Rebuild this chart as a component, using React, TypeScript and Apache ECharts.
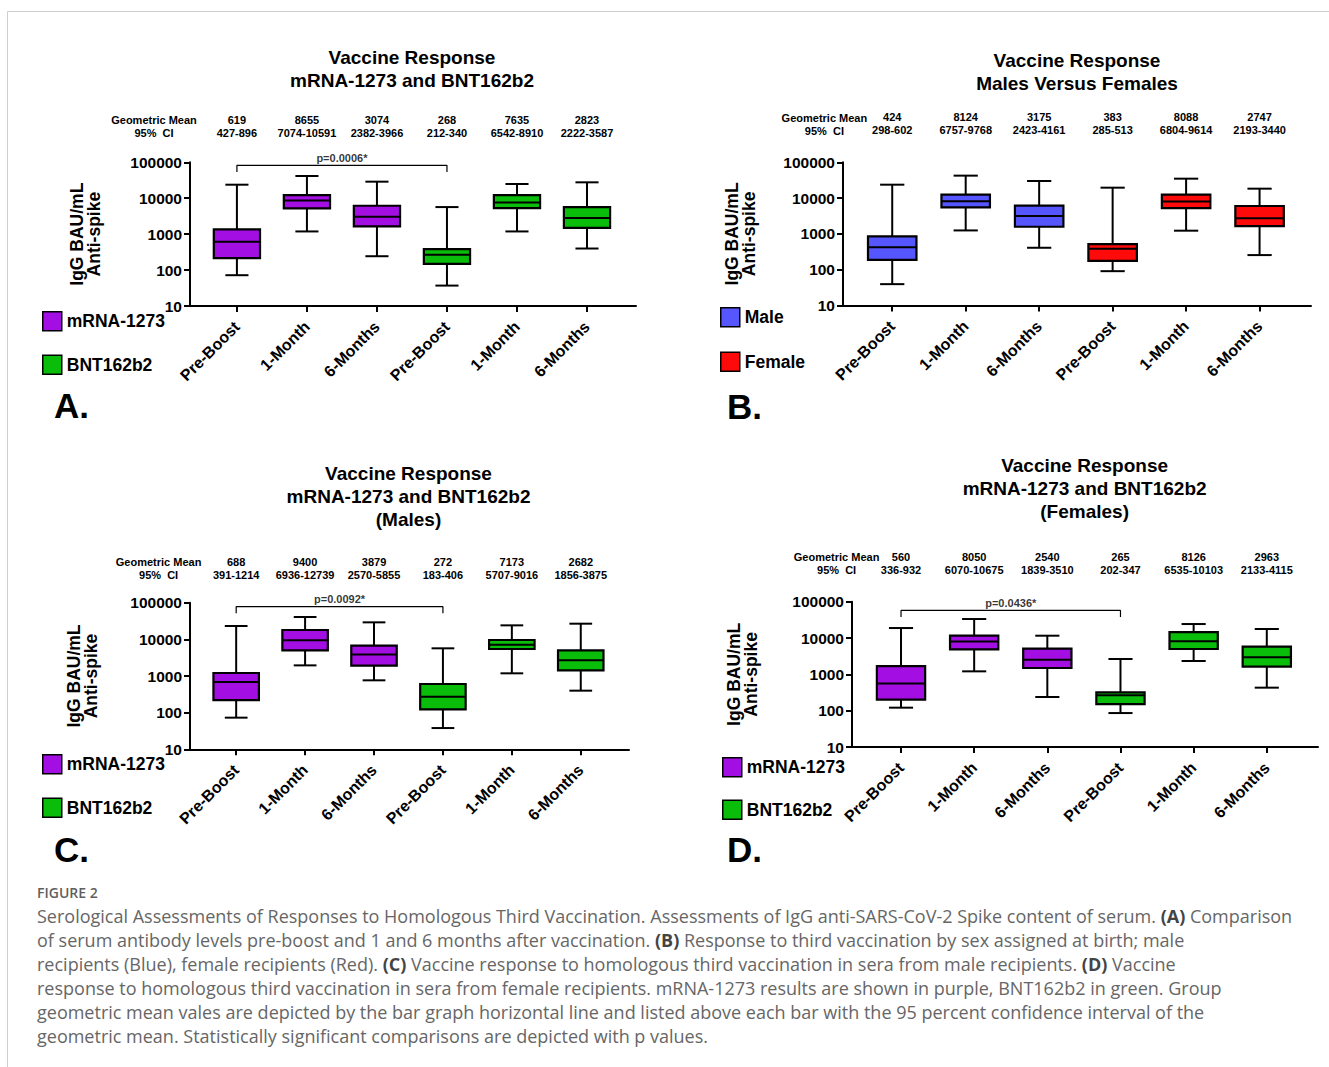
import { useEffect, useRef } from 'react';
import * as echarts from 'echarts';

const AXIS_FONT = '"Liberation Sans", Arial, Helvetica, sans-serif';
const CAPTION_FONT = '"Open Sans", "Noto Sans", sans-serif';
const INK = '#000';

const PURPLE = '#a30ee3';
const GREEN = '#0bbd0b';
const BLUE = '#5656ff';
const RED = '#ff0a0a';

// Time points, repeated for the two groups of each panel
const timepoints = ['Pre-Boost', '1-Month', '6-Months'];
const xTickLabels = [...timepoints, ...timepoints];
const slots = [0, 1, 2, 3, 4, 5];

// Box summaries per time point: [minimum, lower quartile, upper quartile, maximum] (BAU/mL)
// A. mRNA-1273 vs BNT162b2
const panelAMrna = [
  [72, 214, 1350, 23800],
  [1190, 5200, 12250, 41600],
  [243, 1640, 6180, 28900],
];
const panelABnt = [
  [37, 149, 381, 5670],
  [1190, 5320, 12250, 24850],
  [398, 1500, 5670, 27700],
];
const panelAGeoMean = [619, 8655, 3074, 268, 7635, 2823];
const panelACI = ['427-896', '7074-10591', '2382-3966', '212-340', '6542-8910', '2222-3587'];

// B. Males vs Females
const panelBMale = [
  [39.5, 189, 851, 23700],
  [1250, 5510, 12470, 42400],
  [410, 1585, 6135, 30050],
];
const panelBFemale = [
  [91, 177, 520, 19560],
  [1230, 5280, 12470, 34900],
  [256, 1656, 6010, 18340],
];
const panelBGeoMean = [424, 8124, 3175, 383, 8088, 2747];
const panelBCI = ['298-602', '6757-9768', '2423-4161', '285-513', '6804-9614', '2193-3440'];

// C. Males only
const panelCMrna = [
  [73, 221, 1208, 23100],
  [1950, 5010, 17970, 40700],
  [762, 1914, 6720, 29100],
];
const panelCBnt = [
  [38, 123, 605, 5690],
  [1183, 5450, 9590, 24100],
  [398, 1428, 5010, 26750],
];
const panelCGeoMean = [688, 9400, 3879, 272, 7173, 2682];
const panelCCI = ['391-1214', '6936-12739', '2570-5855', '183-406', '5707-9016', '1856-3875'];

// D. Females only
const panelDMrna = [
  [121, 201, 1695, 18840],
  [1210, 4880, 11590, 33340],
  [238, 1494, 5080, 11590],
];
const panelDBnt = [
  [86, 152, 320, 2642],
  [2330, 4980, 14620, 24270],
  [430, 1625, 5770, 17700],
];
const panelDGeoMean = [560, 8050, 2540, 265, 8126, 2963];
const panelDCI = ['336-932', '6070-10675', '1839-3510', '202-347', '6535-10103', '2133-4115'];

// Significance labels for the pre-boost comparisons
const pValueA = 'p=0.0006*';
const pValueC = 'p=0.0092*';
const pValueD = 'p=0.0436*';

const captionLines = [
  'Serological Assessments of Responses to Homologous Third Vaccination. Assessments of IgG anti-SARS-CoV-2 Spike content of serum. {b|(A)} Comparison',
  'of serum antibody levels pre-boost and 1 and 6 months after vaccination. {b|(B)} Response to third vaccination by sex assigned at birth; male',
  'recipients (Blue), female recipients (Red). {b|(C)} Vaccine response to homologous third vaccination in sera from male recipients. {b|(D)} Vaccine',
  'response to homologous third vaccination in sera from female recipients. mRNA-1273 results are shown in purple, BNT162b2 in green. Group',
  'geometric mean vales are depicted by the bar graph horizontal line and listed above each bar with the 95 percent confidence interval of the',
  'geometric mean. Statistically significant comparisons are depicted with p values.',
];

const X_MIN = -0.67;
const X_MAX = 5.7;

const panels = [
  {
    letter: 'A.', letterPos: [54, 405],
    title: 'Vaccine Response\nmRNA-1273 and BNT162b2', titlePos: [412, 68.7],
    grid: { left: 190, top: 162.3, right: 636, bottom: 306 },
    groups: [
      { name: 'mRNA-1273', color: PURPLE, boxes: panelAMrna, start: 0 },
      { name: 'BNT162b2', color: GREEN, boxes: panelABnt, start: 3 },
    ],
    geoMean: panelAGeoMean, ci: panelACI,
    pValue: pValueA, bracket: [53700, 82400],
    meanLabelPos: [154, 126.5], ciMargin: 22.8, nameGap: 88,
    legend: { left: 42, top: 311, gap: 23 },
  },
  {
    letter: 'B.', letterPos: [727, 406],
    title: 'Vaccine Response\nMales Versus Females', titlePos: [1077, 72],
    grid: { left: 843, top: 162.3, right: 1311, bottom: 305.5 },
    groups: [
      { name: 'Male', color: BLUE, boxes: panelBMale, start: 0 },
      { name: 'Female', color: RED, boxes: panelBFemale, start: 3 },
    ],
    geoMean: panelBGeoMean, ci: panelBCI,
    pValue: null, bracket: null,
    meanLabelPos: [824.4, 124.2], ciMargin: 25.5, nameGap: 86,
    legend: { left: 720, top: 307, gap: 24 },
  },
  {
    letter: 'C.', letterPos: [54, 849],
    title: 'Vaccine Response\nmRNA-1273 and BNT162b2\n(Males)', titlePos: [408.5, 496.7],
    grid: { left: 190, top: 602.7, right: 629, bottom: 749.3 },
    groups: [
      { name: 'mRNA-1273', color: PURPLE, boxes: panelCMrna, start: 0 },
      { name: 'BNT162b2', color: GREEN, boxes: panelCBnt, start: 3 },
    ],
    geoMean: panelCGeoMean, ci: panelCCI,
    pValue: pValueC, bracket: [51200, 77800],
    meanLabelPos: [158.6, 568.7], ciMargin: 21.2, nameGap: 91,
    legend: { left: 42, top: 754, gap: 23 },
  },
  {
    letter: 'D.', letterPos: [727, 849],
    title: 'Vaccine Response\nmRNA-1273 and BNT162b2\n(Females)', titlePos: [1084.6, 488.3],
    grid: { left: 852, top: 601.7, right: 1318, bottom: 747 },
    groups: [
      { name: 'mRNA-1273', color: PURPLE, boxes: panelDMrna, start: 0 },
      { name: 'BNT162b2', color: GREEN, boxes: panelDBnt, start: 3 },
    ],
    geoMean: panelDGeoMean, ci: panelDCI,
    pValue: pValueD, bracket: [37800, 57700],
    meanLabelPos: [836.6, 563.7], ciMargin: 25.2, nameGap: 93,
    legend: { left: 722, top: 757, gap: 22 },
  },
];

// Box with half-width whisker caps and a centre line at the geometric mean
function renderBox(_params: any, api: any) {
  const x = api.value(0);
  const lo = api.value(1);
  const q1 = api.value(2);
  const mid = api.value(3);
  const q3 = api.value(4);
  const hi = api.value(5);
  const [cx, yLo] = api.coord([x, lo]);
  const yQ1 = api.coord([x, q1])[1];
  const yMid = api.coord([x, mid])[1];
  const yQ3 = api.coord([x, q3])[1];
  const yHi = api.coord([x, hi])[1];
  const unit = api.coord([x + 1, mid])[0] - cx;
  const half = unit * 0.33;
  const cap = unit * 0.165;
  const ink = { stroke: INK, lineWidth: 2 };
  return {
    type: 'group',
    children: [
      { type: 'line', shape: { x1: cx, y1: yHi, x2: cx, y2: yQ3 }, style: ink },
      { type: 'line', shape: { x1: cx, y1: yQ1, x2: cx, y2: yLo }, style: ink },
      { type: 'line', shape: { x1: cx - cap, y1: yHi, x2: cx + cap, y2: yHi }, style: ink },
      { type: 'line', shape: { x1: cx - cap, y1: yLo, x2: cx + cap, y2: yLo }, style: ink },
      {
        type: 'rect',
        shape: { x: cx - half, y: yQ3, width: 2 * half, height: yQ1 - yQ3 },
        style: { fill: api.visual('color'), stroke: INK, lineWidth: 2.2 },
      },
      { type: 'line', shape: { x1: cx - half, y1: yMid, x2: cx + half, y2: yMid }, style: ink },
    ],
  };
}

function buildOption() {
  const grid: any[] = [];
  const xAxis: any[] = [];
  const yAxis: any[] = [];
  const series: any[] = [];
  const legend: any[] = [];
  const graphic: any[] = [];

  graphic.push(
    { type: 'line', silent: true, shape: { x1: 7.5, y1: 11.5, x2: 1329, y2: 11.5 }, style: { stroke: '#cfcfcf', lineWidth: 1 } },
    { type: 'line', silent: true, shape: { x1: 7.5, y1: 11.5, x2: 7.5, y2: 1067 }, style: { stroke: '#cfcfcf', lineWidth: 1 } },
  );

  panels.forEach((p, i) => {
    grid.push({
      left: p.grid.left,
      top: p.grid.top,
      width: p.grid.right - p.grid.left,
      height: p.grid.bottom - p.grid.top,
      containLabel: false,
      outerBoundsMode: 'none',
    });

    xAxis.push({
      gridIndex: i,
      type: 'value',
      position: 'bottom',
      min: X_MIN,
      max: X_MAX,
      splitLine: { show: false },
      axisLine: { show: true, onZero: false, lineStyle: { color: INK, width: 2 } },
      axisTick: { show: true, customValues: slots, length: 6, lineStyle: { color: INK, width: 2 } },
      axisLabel: {
        customValues: slots,
        formatter: (v: number) => xTickLabels[Math.round(v)] ?? '',
        rotate: 45,
        margin: 18,
        color: INK,
        fontSize: 16,
        fontWeight: 'bold',
        fontFamily: AXIS_FONT,
      },
    });
    xAxis.push({
      gridIndex: i,
      type: 'value',
      position: 'top',
      min: X_MIN,
      max: X_MAX,
      splitLine: { show: false },
      axisLine: { show: false },
      axisTick: { show: false },
      axisLabel: {
        customValues: slots,
        formatter: (v: number) => {
          const k = Math.round(v);
          return `${p.geoMean[k]}\n${p.ci[k]}`;
        },
        margin: p.ciMargin,
        color: INK,
        fontSize: 11,
        fontWeight: 'bold',
        lineHeight: 13,
        fontFamily: AXIS_FONT,
      },
    });

    yAxis.push({
      gridIndex: i,
      type: 'log',
      logBase: 10,
      min: 10,
      max: 100000,
      splitLine: { show: false },
      axisLine: { show: true, onZero: false, lineStyle: { color: INK, width: 2 } },
      axisTick: { show: true, length: 6, lineStyle: { color: INK, width: 2 } },
      axisLabel: {
        formatter: (v: number) => String(Math.round(v)),
        margin: 8,
        color: INK,
        fontSize: 15.5,
        fontWeight: 'bold',
        fontFamily: AXIS_FONT,
      },
      name: 'IgG BAU/mL\nAnti-spike',
      nameLocation: 'middle',
      nameRotate: 90,
      nameGap: p.nameGap,
      nameTextStyle: { fontSize: 17.5, fontWeight: 'bold', color: INK, lineHeight: 17, fontFamily: AXIS_FONT },
    });

    p.groups.forEach((g) => {
      series.push({
        type: 'custom',
        name: g.name,
        xAxisIndex: 2 * i,
        yAxisIndex: i,
        silent: true,
        z: 3,
        itemStyle: { color: g.color },
        renderItem: renderBox,
        data: g.boxes.map((b, j) => {
          const k = g.start + j;
          return [k, b[0], b[1], p.geoMean[k], b[2], b[3]];
        }),
      });
    });

    if (p.pValue && p.bracket) {
      const [foot, top] = p.bracket;
      series.push({
        type: 'line',
        xAxisIndex: 2 * i,
        yAxisIndex: i,
        silent: true,
        symbol: 'none',
        z: 4,
        lineStyle: { color: INK, width: 1.2 },
        data: [[0, foot], [0, top], [3, top], [3, foot]],
      });
      series.push({
        type: 'scatter',
        xAxisIndex: 2 * i,
        yAxisIndex: i,
        silent: true,
        symbolSize: 0,
        z: 4,
        label: {
          show: true,
          position: 'top',
          distance: 2,
          formatter: p.pValue,
          color: INK,
          fontSize: 11,
          fontWeight: 'bold',
          fontFamily: AXIS_FONT,
        },
        data: [[1.5, top]],
      });
    }

    legend.push({
      orient: 'vertical',
      left: p.legend.left,
      top: p.legend.top,
      padding: 0,
      itemWidth: 19,
      itemHeight: 19,
      itemGap: p.legend.gap,
      icon: 'rect',
      selectedMode: false,
      data: p.groups.map((g) => g.name),
      itemStyle: { borderColor: INK, borderWidth: 1.5 },
      textStyle: { fontSize: 17.5, fontWeight: 'bold', color: INK, fontFamily: AXIS_FONT },
    });

    graphic.push(
      {
        type: 'text',
        silent: true,
        x: p.titlePos[0],
        y: p.titlePos[1],
        style: {
          text: p.title,
          textAlign: 'center',
          textVerticalAlign: 'middle',
          fontSize: 19,
          fontWeight: 'bold',
          fontFamily: AXIS_FONT,
          lineHeight: 23.3,
          fill: INK,
        },
      },
      {
        type: 'text',
        silent: true,
        x: p.meanLabelPos[0],
        y: p.meanLabelPos[1],
        style: {
          text: 'Geometric Mean\n95%  CI',
          textAlign: 'center',
          textVerticalAlign: 'middle',
          fontSize: 11,
          fontWeight: 'bold',
          fontFamily: AXIS_FONT,
          lineHeight: 13,
          fill: INK,
        },
      },
      {
        type: 'text',
        silent: true,
        x: p.letterPos[0],
        y: p.letterPos[1],
        style: {
          text: p.letter,
          textAlign: 'left',
          textVerticalAlign: 'middle',
          fontSize: 35,
          fontWeight: 'bold',
          fontFamily: AXIS_FONT,
          fill: INK,
        },
      },
    );
  });

  graphic.push({
    type: 'text',
    silent: true,
    x: 37,
    y: 892,
    style: {
      text: 'FIGURE 2',
      textVerticalAlign: 'middle',
      fontSize: 14,
      fontWeight: 600,
      fontFamily: CAPTION_FONT,
      fill: '#5f5f5f',
    },
  });
  captionLines.forEach((line, i) => {
    graphic.push({
      type: 'text',
      silent: true,
      x: 37,
      y: 916 + i * 24,
      style: {
        text: line,
        textVerticalAlign: 'middle',
        fontSize: 18,
        fontFamily: CAPTION_FONT,
        fill: '#666666',
        rich: {
          b: { fontSize: 18, fontWeight: 'bold', fontFamily: CAPTION_FONT, fill: '#444444' },
        },
      },
    });
  });

  return {
    animation: false,
    backgroundColor: '#fff',
    textStyle: { fontFamily: AXIS_FONT },
    grid,
    xAxis,
    yAxis,
    series,
    legend,
    graphic,
  };
}

export default function App() {
  const ref = useRef<HTMLDivElement>(null);
  useEffect(() => {
    if (!ref.current) return;
    const chart = echarts.init(ref.current, null, { renderer: 'svg' });
    chart.setOption(buildOption() as any);
    return () => chart.dispose();
  }, []);
  return (
    <div
      ref={ref}
      style={{ position: 'fixed', left: 0, top: 0, width: 1329, height: 1067, background: '#fff' }}
    />
  );
}
